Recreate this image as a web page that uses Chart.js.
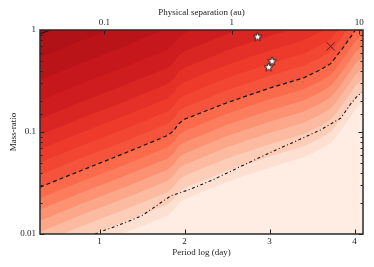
<!DOCTYPE html>
<html>
<head>
<meta charset="utf-8">
<script src="https://cdn.jsdelivr.net/npm/chart.js@4"></script>
<style>
  html, body { margin: 0; padding: 0; background: #ffffff; }
  canvas { display: block; }
</style>
</head>
<body>
<canvas id="c" width="374" height="267"></canvas>
<script>
// ---------- data ----------
// x: log10 of the period in days; y: log10 of the mass-ratio
const periodGrid = [0.3, 0.8, 1.3, 1.8, 1.87, 1.93, 2.0, 2.5, 3.0, 3.4, 3.6, 3.72, 3.8, 3.86, 3.93, 4.01, 4.1];

// dashed curve (log10 q) on periodGrid
const dashedLog10Q = [-1.54, -1.373, -1.207, -1.035, -0.99, -0.92, -0.875, -0.713, -0.57, -0.47, -0.39, -0.33, -0.245, -0.18, -0.098, 0.0, 0.07];

// dash-dot curve
const dashDotPeriod = [0.945, 1.33, 1.50, 1.84, 2.05, 2.33, 2.74, 3.0, 3.3, 3.6, 3.84, 3.95, 4.03, 4.09];
const dashDotLog10Q = [-2.0, -1.88, -1.82, -1.625, -1.567, -1.47, -1.307, -1.205, -1.093, -0.98, -0.863, -0.73, -0.65, -0.61];

// filled-contour band boundaries (log10 q) on periodGrid, from the darkest level down
const level01 = [-0.04, 0.13];
const level02 = [-0.27, -0.10, 0.06];
const level03 = [-0.49, -0.32, -0.16, 0.02];
const level04 = [-0.69, -0.52, -0.36, -0.19, -0.14, -0.07, -0.03, 0.14];
const level05 = [-0.87, -0.70, -0.54, -0.37, -0.32, -0.25, -0.21, -0.04, 0.10];
const level06 = [-1.03, -0.86, -0.70, -0.53, -0.48, -0.41, -0.37, -0.20, -0.06, 0.04];
const level07 = [-1.17, -1.00, -0.84, -0.67, -0.62, -0.55, -0.51, -0.34, -0.20, -0.10, -0.02, 0.04];
const level08 = [-1.30, -1.13, -0.97, -0.80, -0.75, -0.68, -0.64, -0.47, -0.33, -0.23, -0.15, -0.09, -0.01, 0.06];
const level09 = [-1.42, -1.25, -1.09, -0.92, -0.87, -0.80, -0.76, -0.59, -0.45, -0.35, -0.27, -0.21, -0.13, -0.06, 0.02];
const level10 = dashedLog10Q;
const level11 = [-1.65, -1.48, -1.32, -1.15, -1.10, -1.03, -0.99, -0.82, -0.68, -0.58, -0.50, -0.44, -0.36, -0.29, -0.21, -0.11, -0.04];
const level12 = [-1.76, -1.59, -1.43, -1.26, -1.21, -1.14, -1.10, -0.93, -0.79, -0.69, -0.61, -0.55, -0.47, -0.40, -0.32, -0.22, -0.15];
const level13 = [-1.87, -1.70, -1.54, -1.37, -1.32, -1.25, -1.21, -1.04, -0.90, -0.80, -0.72, -0.66, -0.58, -0.51, -0.43, -0.33, -0.26];
const level14 = [-1.98, -1.81, -1.65, -1.48, -1.43, -1.36, -1.32, -1.15, -1.01, -0.91, -0.83, -0.77, -0.69, -0.62, -0.54, -0.44, -0.37];
const level15 = [-2.09, -1.92, -1.76, -1.59, -1.54, -1.47, -1.43, -1.26, -1.12, -1.02, -0.94, -0.88, -0.80, -0.73, -0.65, -0.55, -0.48];
const level16 = [-2.21, -2.04, -1.88, -1.71, -1.66, -1.59, -1.55, -1.38, -1.24, -1.14, -1.06, -1.00, -0.92, -0.85, -0.77, -0.67, -0.60];
const level17 = [-2.32, -2.15, -1.99, -1.82, -1.77, -1.70, -1.66, -1.49, -1.35, -1.25, -1.17, -1.11, -1.03, -0.96, -0.88, -0.78, -0.71];
const contourLevels = [level01, level02, level03, level04, level05, level06, level07, level08, level09,
                       level10, level11, level12, level13, level14, level15, level16, level17];

// observed systems
const starPeriod = [2.86, 3.03, 2.99];
const starQ = [0.854, 0.493, 0.431];
const crossPeriod = [3.72];
const crossQ = [0.69];

// tick labels
const xTicks = [1, 2, 3, 4];
const yTicks = [0.01, 0.1, 1];
const auTicks = [0.1, 1, 10];
const auZeroPoint = 2.556;   // log P (day) at 1 au

// ---------- styles ----------
const bandColors = [ // colour above each level (index 0 = above level01), last = background
  'rgb(165,15,21)', 'rgb(176,18,23)', 'rgb(186,20,25)', 'rgb(197,23,28)', 'rgb(207,28,31)',
  'rgb(217,38,35)', 'rgb(228,48,39)', 'rgb(238,58,43)', 'rgb(242,70,51)', 'rgb(245,83,60)',
  'rgb(251,106,74)', 'rgb(251,125,94)', 'rgb(252,146,114)', 'rgb(252,167,138)', 'rgb(252,187,161)',
  'rgb(253,205,184)', 'rgb(254,224,210)', 'rgb(255,237,228)'
];
const FONT = { family: '"Liberation Serif", "Times New Roman", serif', size: 9 };
const INK = '#222222';

const toQ = v => Math.pow(10, v);
const pts = (xs, ys) => ys.map((v, i) => ({ x: xs[i], y: toQ(v) }));

function makeStar(R, r) {
  const s = Math.ceil(2 * R + 3);
  const c = document.createElement('canvas');
  c.width = s; c.height = s;
  const g = c.getContext('2d');
  g.beginPath();
  for (let i = 0; i < 10; i++) {
    const a = -Math.PI / 2 + i * Math.PI / 5;
    const rad = (i % 2) ? r : R;
    const px = s / 2 + rad * Math.cos(a), py = s / 2 + rad * Math.sin(a);
    if (i === 0) g.moveTo(px, py); else g.lineTo(px, py);
  }
  g.closePath();
  g.fillStyle = '#ffffff'; g.fill();
  g.strokeStyle = INK; g.lineWidth = 1; g.stroke();
  return c;
}

const datasets = [];
datasets.push({ data: starPeriod.map((x, i) => ({ x, y: starQ[i] })), showLine: false,
  pointStyle: makeStar(4.6, 2.0), pointRadius: 5, order: -2, clip: false });
datasets.push({ data: crossPeriod.map((x, i) => ({ x, y: crossQ[i] })), showLine: false,
  pointStyle: 'crossRot', pointRadius: 5.8, borderColor: '#5a1a1a', borderWidth: 1, order: -1, clip: false });
datasets.push({ data: pts(periodGrid, dashedLog10Q), borderColor: '#151515', borderWidth: 1.2,
  borderDash: [4, 3], pointRadius: 0, fill: false, order: 0 });
datasets.push({ data: pts(dashDotPeriod, dashDotLog10Q), borderColor: '#151515', borderWidth: 1.1,
  borderDash: [3, 2.5, 1, 2.5], pointRadius: 0, fill: false, order: 0 });
contourLevels.forEach((lv, k) => {
  datasets.push({ data: pts(periodGrid, lv), fill: 'end', backgroundColor: bandColors[k],
    borderColor: k === 0 ? '#111111' : 'rgba(0,0,0,0)', borderWidth: k === 0 ? 1 : 0,
    pointRadius: 0, order: k + 1 });
});

const isMajorY = v => yTicks.some(t => Math.abs(t - v) < 1e-9);

const frame = {
  id: 'frame',
  beforeDatasetsDraw(chart) {
    const a = chart.chartArea, ctx = chart.ctx;
    ctx.save();
    ctx.fillStyle = bandColors[bandColors.length - 1];
    ctx.fillRect(a.left, a.top, a.right - a.left, a.bottom - a.top);
    ctx.restore();
  },
  afterDraw(chart) {
    const a = chart.chartArea, ctx = chart.ctx;
    ctx.save();
    ctx.strokeStyle = INK; ctx.lineWidth = 1;
    const seg = (x1, y1, x2, y2) => { ctx.beginPath(); ctx.moveTo(x1, y1); ctx.lineTo(x2, y2); ctx.stroke(); };
    const ys = chart.scales.y;
    ys.ticks.forEach(t => {
      const p = Math.round(ys.getPixelForValue(t.value)) + 0.5;
      const len = isMajorY(t.value) ? 4.5 : 2.5;
      seg(a.left, p, a.left + len, p);
      seg(a.right, p, a.right - len, p);
    });
    const xs = chart.scales.x;
    xs.ticks.forEach(t => {
      const p = Math.round(xs.getPixelForValue(t.value)) + 0.5;
      seg(p, a.bottom, p, a.bottom - 4.5);
    });
    const x2 = chart.scales.x2;
    x2.ticks.forEach(t => {
      const p = Math.round(x2.getPixelForValue(t.value)) + 0.5;
      seg(p, a.top, p, a.top + 4.5);
    });
    ctx.lineWidth = 1.5;
    ctx.strokeStyle = '#2a2a2a';
    ctx.strokeRect(a.left, a.top, a.right - a.left, a.bottom - a.top);
    ctx.restore();
  }
};

new Chart(document.getElementById('c'), {
  type: 'line',
  data: { datasets },
  plugins: [frame],
  options: {
    responsive: false,
    animation: false,
    devicePixelRatio: 1,
    layout: { padding: { left: 0, right: 11, top: 0, bottom: 0 } },
    plugins: { legend: { display: false }, tooltip: { enabled: false } },
    elements: { line: { tension: 0 } },
    scales: {
      x: {
        type: 'linear', position: 'bottom', min: 0.3, max: 4.1,
        afterBuildTicks: s => { s.ticks = xTicks.map(v => ({ value: v })); },
        afterFit: s => { s.height = 33; },
        grid: { drawOnChartArea: false, drawTicks: false },
        border: { display: false },
        ticks: { font: FONT, color: INK, padding: 2, maxRotation: 0, autoSkip: false,
                 callback: v => String(v) },
        title: { display: true, text: 'Period log (day)', font: FONT, color: INK, padding: { top: 0, bottom: 9 } }
      },
      x2: {
        type: 'linear', position: 'top', min: 0.3, max: 4.1,
        afterBuildTicks: s => { s.ticks = auTicks.map(a => ({ value: auZeroPoint + 1.5 * Math.log10(a) })); },
        afterFit: s => { s.height = 30; },
        grid: { drawOnChartArea: false, drawTicks: false },
        border: { display: false },
        ticks: { font: FONT, color: INK, padding: 1.5, maxRotation: 0, autoSkip: false,
                 callback: (v, i) => String(auTicks[i]) },
        title: { display: true, text: 'Physical separation (au)', font: FONT, color: INK, padding: { top: 7.6, bottom: 0 } }
      },
      y: {
        type: 'logarithmic', position: 'left', min: 0.01, max: 1,
        afterFit: s => { s.width = 40; },
        grid: { drawOnChartArea: false, drawTicks: false },
        border: { display: false },
        ticks: { font: FONT, color: INK, padding: 4, autoSkip: false,
                 callback: v => isMajorY(v) ? String(v) : '' },
        title: { display: true, text: 'Mass-ratio', font: FONT, color: INK, padding: { top: 8.6, bottom: 0 } }
      }
    }
  }
});
</script>
</body>
</html>
